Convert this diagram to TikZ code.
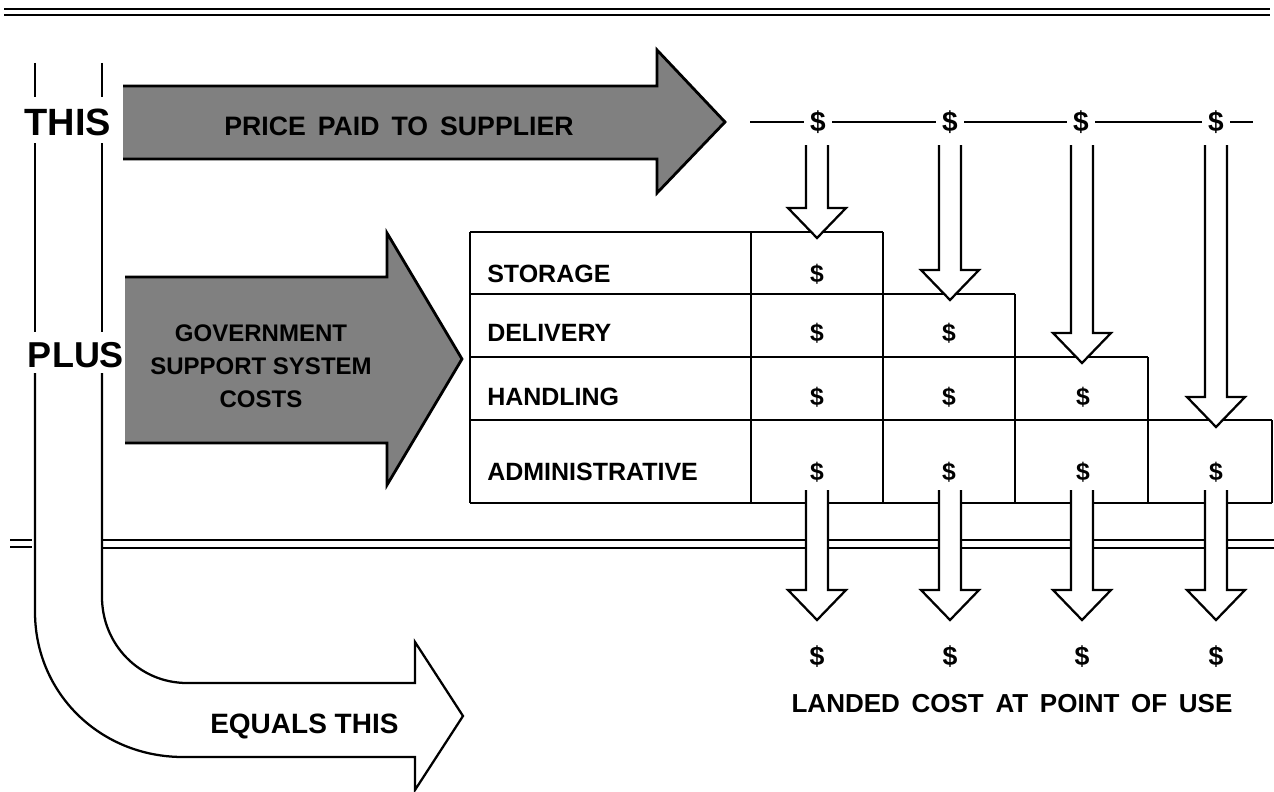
\documentclass[tikz,border=0pt]{standalone}
\usepackage{fontspec}
\setmainfont{Liberation Sans}
\newcommand\widegap{\hspace{0.45em}}
% hollow downward arrow: centre x, top of shaft, tip
\newcommand\hollowdown[3]{%
  \fill[white] (#1-11,#2) -- (#1-11,#3-30) -- (#1-29,#3-30) -- (#1,#3)
     -- (#1+29,#3-30) -- (#1+11,#3-30) -- (#1+11,#2) -- cycle;
  \draw[rule, line join=miter] (#1-11,#2) -- (#1-11,#3-30) -- (#1-29,#3-30)
     -- (#1,#3) -- (#1+29,#3-30) -- (#1+11,#3-30) -- (#1+11,#2);
}
\tikzset{
  rule/.style={line width=1.7pt},
  shaded/.style={fill=black!50},
  outline/.style={line width=2.1pt, line join=miter},
  word/.style={inner sep=0pt, anchor=base, font=\bfseries\fontsize{#1}{#1}\selectfont},
  money/.style={inner sep=0pt, anchor=base, font=\bfseries\fontsize{#1}{#1}\selectfont},
}
\begin{document}
\begin{tikzpicture}[x=0.75pt,y=-0.75pt]
\useasboundingbox (0,0) rectangle (1274,792);

% page rules
\draw[rule] (4,9) -- (1270,9);
\draw[rule, line width=2pt] (4,15) -- (1270,15);
\draw[rule] (102,540) -- (1274,540);
\draw[rule] (102,548) -- (1274,548);
\draw[rule] (10,540) -- (32,540);
\draw[rule] (10,547) -- (32,547);

% bent arrow on the left
\draw[rule] (35,63) -- (35,97);
\draw[rule] (35,143) -- (35,332);
\draw[rule] (102,63) -- (102,97);
\draw[rule] (102,143) -- (102,332);
\draw[rule, line join=miter] (35,373) -- (35,612) .. controls (35,693) and (100,757) .. (183,757)
   -- (415,757) -- (415,790) -- (463,716) -- (415,642) -- (415,683) -- (187,683)
   .. controls (139,683) and (102,644) .. (102,597) -- (102,373);

% shaded arrows
\fill[shaded] (123,86) -- (657,86) -- (657,50) -- (725,122) -- (657,193) -- (657,159) -- (123,159) -- cycle;
\draw[outline] (123,86) -- (657,86) -- (657,50) -- (725,122) -- (657,193) -- (657,159) -- (123,159);
\fill[shaded] (125,277) -- (387,277) -- (387,233) -- (462,359) -- (387,485) -- (387,443) -- (125,443) -- cycle;
\draw[outline] (125,277) -- (387,277) -- (387,233) -- (462,359) -- (387,485) -- (387,443) -- (125,443);

% cost table (staircase)
\draw[rule] (470,232) -- (883,232);
\draw[rule] (470,294) -- (1015,294);
\draw[rule] (470,357) -- (1148,357);
\draw[rule] (470,420) -- (1272,420);
\draw[rule] (470,503) -- (1272,503);
\draw[rule] (470,232) -- (470,503);
\draw[rule] (751,232) -- (751,503);
\draw[rule] (883,232) -- (883,503);
\draw[rule] (1015,294) -- (1015,503);
\draw[rule] (1148,357) -- (1148,503);
\draw[rule] (1272,420) -- (1272,503);

% price line with dollar marks
\draw[rule] (750,122) -- (1253,122);
\foreach \i/\x in {1/818,2/950,3/1081,4/1216}
  \node[money=21, fill=white, inner xsep=5pt, inner ysep=2pt] (top\i) at (\x,131) {\$};

% flows into the table and out of it
\hollowdown{817}{145}{238}
\hollowdown{950}{145}{300}
\hollowdown{1082}{145}{363}
\hollowdown{1216}{145}{427}
\hollowdown{817}{490}{620}
\hollowdown{950}{490}{620}
\hollowdown{1082}{490}{620}
\hollowdown{1216}{490}{620}

% side words
\node[word=28.5] (this) at (68,135) {THIS};
\node[word=27] (plus) at (76,367) {PLUS};
\node[word=20] (price) at (399,135) {PRICE\widegap PAID\widegap TO\widegap SUPPLIER};
\node[word=18] (gov1) at (261,341) {GOVERNMENT};
\node[word=18] (gov2) at (261,374) {SUPPORT SYSTEM};
\node[word=18] (gov3) at (261,407) {COSTS};

% table labels
\node[word=18.75, anchor=base west] (storage) at (487,282) {STORAGE};
\node[word=18.75, anchor=base west] (delivery) at (487,341) {DELIVERY};
\node[word=18.75, anchor=base west] (handling) at (487,405) {HANDLING};
\node[word=18.75, anchor=base west] (admin) at (487,480) {ADMINISTRATIVE};

% table entries
\node[money=18.5] (s1) at (817,282) {\$};
\node[money=18.5] (d1) at (817,341) {\$};
\node[money=18.5] (d2) at (949,341) {\$};
\node[money=18.5] (h1) at (817,405) {\$};
\node[money=18.5] (h2) at (949,405) {\$};
\node[money=18.5] (h3) at (1083,405) {\$};
\node[money=18.5] (a1) at (817,480) {\$};
\node[money=18.5] (a2) at (949,480) {\$};
\node[money=18.5] (a3) at (1083,480) {\$};
\node[money=18.5] (a4) at (1216,480) {\$};

% totals
\foreach \i/\x in {1/817,2/950,3/1082,4/1216}
  \node[money=20] (out\i) at (\x,665) {\$};
\node[word=19.5] (landed) at (1012,712) {LANDED\widegap COST\widegap AT\widegap POINT\widegap OF\widegap USE};
\node[word=21, anchor=base west] (equals) at (210,733) {EQUALS THIS};
\end{tikzpicture}
\end{document}
